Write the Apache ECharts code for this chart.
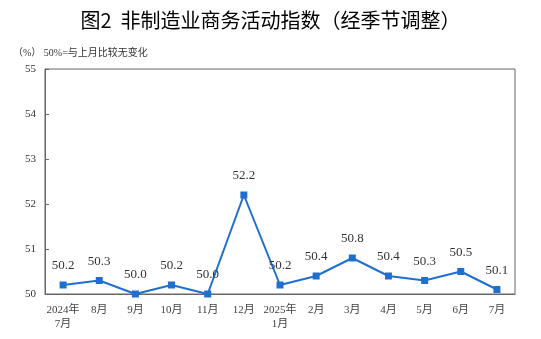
<!DOCTYPE html>
<html><head><meta charset="utf-8">
<script src="https://cdn.jsdelivr.net/npm/echarts@6/dist/echarts.min.js"></script>
<style>html,body{margin:0;padding:0;background:#fff}#c{width:541px;height:339px}</style>
</head><body><div id="c"></div>
<script>
const categories = ['2024年\n7月','8月','9月','10月','11月','12月','2025年\n1月','2月','3月','4月','5月','6月','7月'];
const values = [50.2, 50.3, 50.0, 50.2, 50.0, 52.2, 50.2, 50.4, 50.8, 50.4, 50.3, 50.5, 50.1];
const yTicks = [50, 51, 52, 53, 54, 55];

const serif = '"Liberation Serif","Times New Roman","Noto Sans CJK SC",serif';
const chart = echarts.init(document.getElementById('c'), null, {renderer:'canvas'});
chart.setOption({
  animation: false,
  backgroundColor: '#fff',
  title: [
    {text: '图2  非制造业商务活动指数（经季节调整）', left: 'center', top: 5,
     textStyle: {fontSize: 20, fontWeight: 'normal', color: '#000', fontFamily: '"Noto Sans CJK SC",sans-serif'}},
    {text: '（%） 50%=与上月比较无变化', left: 8, top: 43,
     textStyle: {fontSize: 10, fontWeight: 'normal', color: '#333', fontFamily: serif}}
  ],
  grid: {left: 45, right: 26, top: 69, bottom: 45, show: true, borderColor: '#666', borderWidth: 1},
  xAxis: {
    type: 'category', data: categories, boundaryGap: true,
    axisLine: {lineStyle: {color: '#666'}},
    axisTick: {inside: true, length: 4, lineStyle: {color: '#666'}},
    axisLabel: {fontSize: 11, color: '#444', fontFamily: serif, lineHeight: 14, margin: 9, interval: 0}
  },
  yAxis: {
    type: 'value', min: yTicks[0], max: yTicks[yTicks.length-1], interval: 1,
    axisLine: {show: true, lineStyle: {color: '#666'}},
    axisTick: {show: true, inside: true, length: 4, lineStyle: {color: '#666'}},
    splitLine: {show: false},
    axisLabel: {fontSize: 11, color: '#333', fontFamily: serif, margin: 9}
  },
  series: [{
    type: 'line', data: values,
    symbol: 'rect', symbolSize: 7,
    lineStyle: {color: '#1f6fd1', width: 2},
    itemStyle: {color: '#1f6fd1'},
    label: {show: true, position: 'top', distance: 9, fontSize: 13, color: '#333', fontFamily: serif,
            formatter: p => p.value.toFixed(1)}
  }]
});
</script></body></html>
